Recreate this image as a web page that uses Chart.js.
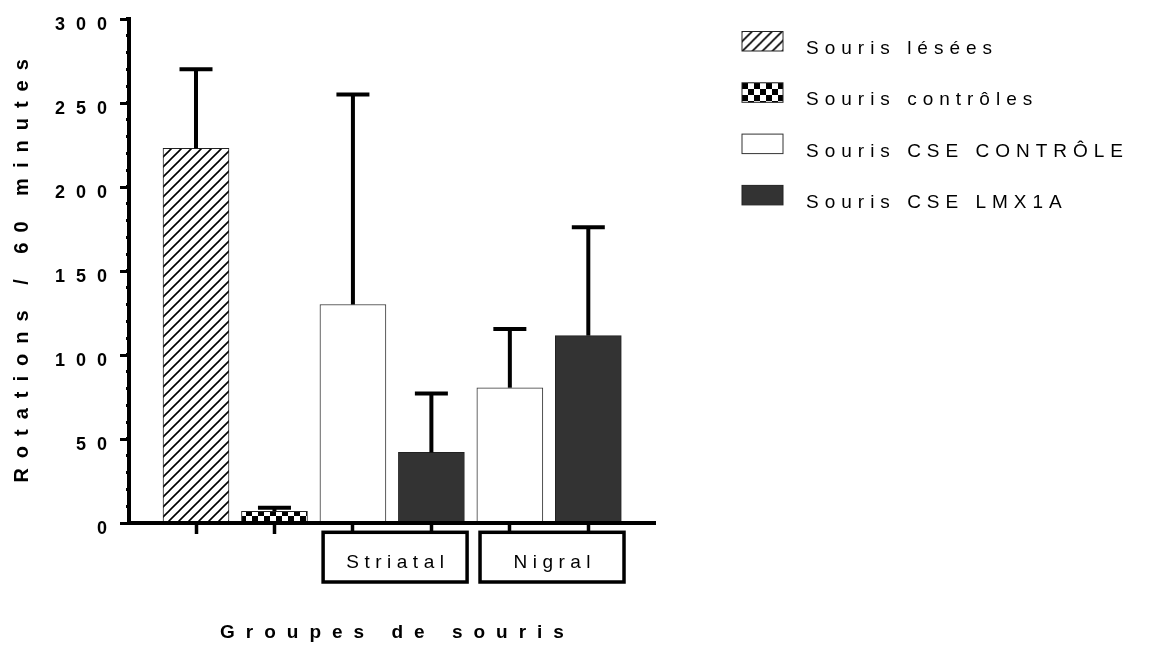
<!DOCTYPE html>
<html>
<head>
<meta charset="utf-8">
<title>Rotations / 60 minutes</title>
<script src="https://cdn.jsdelivr.net/npm/chart.js@4"></script>
<style>
  html, body { margin: 0; padding: 0; background: #ffffff; }
  canvas { display: block; }
</style>
</head>
<body>
<canvas id="chart" width="1149" height="652"></canvas>
<script>
// ---- data ----
const seriesNames = ['Souris lésées', 'Souris contrôles', 'Souris CSE CONTRÔLE', 'Souris CSE LMX1A'];
const barSeries = [0, 1, 2, 3, 2, 3];          // series index of each bar, left to right
const barMeans  = [223, 7, 130, 42, 80.5, 111.5];
const barErrors = [47, 2, 125, 35, 35, 64.5];   // upper error (SEM)
const groupLabels = ['Striatal', 'Nigral'];
const groupBars = [[2, 3], [4, 5]];             // bars framed by each group box
const yTickStep = 10;
const yLabelStep = 50;
const yTitle = 'Rotations / 60 minutes';
const xTitle = 'Groupes de souris';

const FONT = "'Liberation Sans', Arial, Helvetica, sans-serif";

// ---- fill patterns ----
function makeHatch(ctx, dx, dy) {
  const c = document.createElement('canvas');
  c.width = 10; c.height = 10;
  const g = c.getContext('2d');
  g.fillStyle = '#ffffff'; g.fillRect(0, 0, 10, 10);
  g.strokeStyle = '#000000'; g.lineWidth = 1.6;
  g.beginPath();
  g.moveTo(-2, 12); g.lineTo(12, -2);
  g.moveTo(-2, 2); g.lineTo(2, -2);
  g.moveTo(8, 12); g.lineTo(12, 8);
  g.stroke();
  const p = ctx.createPattern(c, 'repeat');
  if (dx !== undefined && p.setTransform) p.setTransform(new DOMMatrix().translate(dx, dy));
  return p;
}
function makeChecker(ctx, dx, dy) {
  const c = document.createElement('canvas');
  c.width = 12; c.height = 12;
  const g = c.getContext('2d');
  g.fillStyle = '#ffffff'; g.fillRect(0, 0, 12, 12);
  g.fillStyle = '#000000';
  g.fillRect(0, 0, 6, 6); g.fillRect(6, 6, 6, 6);
  const p = ctx.createPattern(c, 'repeat');
  if (dx !== undefined && p.setTransform) p.setTransform(new DOMMatrix().translate(dx, dy));
  return p;
}

const canvas = document.getElementById('chart');
const ctx = canvas.getContext('2d');
const fills = [makeHatch(ctx), makeChecker(ctx), '#ffffff', '#333333'];
const edges = ['#222222', '#222222', '#333333', '#222222'];

const datasets = seriesNames.map((name, s) => ({
  label: name,
  data: barMeans
    .map((v, i) => ({ x: i, y: v, err: barErrors[i] }))
    .filter((d, i) => barSeries[i] === s),
  backgroundColor: fills[s],
  borderColor: edges[s],
  borderWidth: 1,
  barThickness: 66,
  grouped: false
}));

// text with tracking
function spaced(c, text, x, y, spacing, align) {
  c.letterSpacing = spacing + 'px';
  c.textAlign = align;
  let xx = x;
  if (align === 'center') xx = x + spacing / 2;
  else if (align === 'right') xx = x + spacing;
  c.fillText(text, xx, y);
  c.letterSpacing = '0px';
}

// ---- error bars (upper only, with cap) ----
const errorBars = {
  id: 'errorBars',
  afterDatasetsDraw(chart) {
    const c = chart.ctx;
    const y = chart.scales.y;
    c.save();
    c.strokeStyle = '#000000';
    c.lineCap = 'butt';
    chart.data.datasets.forEach((ds, di) => {
      const meta = chart.getDatasetMeta(di);
      meta.data.forEach((bar, j) => {
        const d = ds.data[j];
        const top = y.getPixelForValue(d.y + d.err);
        c.lineWidth = 4;
        c.beginPath(); c.moveTo(bar.x, bar.y); c.lineTo(bar.x, top); c.stroke();
        c.beginPath(); c.moveTo(bar.x - 16.5, top); c.lineTo(bar.x + 16.5, top); c.stroke();
      });
    });
    c.restore();
  }
};

// ---- tick label tracking, long major ticks, group boxes, titles, legend ----
const decor = {
  id: 'decor',
  beforeDraw(chart) {
    chart.ctx.letterSpacing = '11px';
  },
  afterDraw(chart) {
    const c = chart.ctx;
    const x = chart.scales.x;
    const y = chart.scales.y;
    const area = chart.chartArea;
    c.save();
    c.letterSpacing = '0px';

    // long ticks at labelled values
    c.strokeStyle = '#000000';
    c.lineWidth = 3;
    for (let v = 0; v <= y.max; v += yLabelStep) {
      const py = Math.round(y.getPixelForValue(v)) + 0.5;
      c.beginPath(); c.moveTo(area.left - 9, py); c.lineTo(area.left, py); c.stroke();
    }

    // group boxes below the axis
    c.lineWidth = 3.5;
    c.fillStyle = '#000000';
    c.font = '19px ' + FONT;
    c.textBaseline = 'alphabetic';
    groupLabels.forEach((lab, g) => {
      const first = groupBars[g][0], last = groupBars[g][groupBars[g].length - 1];
      const x0 = x.getPixelForValue(first - 0.38);
      const x1 = x.getPixelForValue(last + 0.455);
      const top = 532.3, bottom = 582;
      c.strokeRect(x0, top, x1 - x0, bottom - top);
      spaced(c, lab, (x0 + x1) / 2, 568, 5.5, 'center');
    });

    // axis titles
    c.font = 'bold 19px ' + FONT;
    spaced(c, xTitle, (area.left + area.right) / 2, 638, 11, 'center');
    c.save();
    c.translate(27.5, (area.top + area.bottom) / 2);
    c.rotate(-Math.PI / 2);
    c.font = 'bold 20px ' + FONT;
    spaced(c, yTitle, 0, 0, 10, 'center');
    c.restore();

    // legend
    const keyFills = [makeHatch(c, 742, 31.5), makeChecker(c, 742, 83), '#ffffff', '#333333'];
    c.font = '19px ' + FONT;
    chart.data.datasets.forEach((ds, i) => {
      const top = 31.5 + 51.3 * i;
      c.fillStyle = keyFills[i];
      c.fillRect(742, top, 41, 19.5);
      c.strokeStyle = edges[i];
      c.lineWidth = 1;
      c.strokeRect(742, top, 41, 19.5);
      c.fillStyle = '#000000';
      spaced(c, ds.label, 806, top + 22.5, 6, 'left');
    });
    c.restore();
  }
};

new Chart(ctx, {
  type: 'bar',
  data: { datasets },
  options: {
    responsive: false,
    animation: false,
    devicePixelRatio: 1,
    layout: { padding: { top: 15, right: 494, bottom: 0, left: 0 } },
    plugins: { legend: { display: false }, tooltip: { enabled: false } },
    scales: {
      x: {
        type: 'linear',
        offset: false,
        min: -0.854,
        max: 5.85,
        afterFit(s) { s.height = 129; },
        ticks: { display: false, stepSize: 1, includeBounds: false },
        grid: {
          offset: false,
          drawOnChartArea: false, drawTicks: true,
          tickLength: 11, tickWidth: 3.5, tickColor: '#000000'
        },
        border: { display: true, width: 4, color: '#000000', z: 1 }
      },
      y: {
        min: 0,
        max: 300,
        afterFit(s) { s.width = 129; },
        ticks: {
          stepSize: yTickStep,
          autoSkip: false,
          padding: 8,
          labelOffset: 6,
          color: '#000000',
          font: { family: FONT, size: 18, weight: 'bold' },
          callback: (v) => (v % yLabelStep === 0 ? String(v) : '')
        },
        grid: {
          drawOnChartArea: false, drawTicks: true,
          tickLength: 3, tickWidth: 3, tickColor: '#000000'
        },
        border: { display: true, width: 4, color: '#000000', z: 1 }
      }
    }
  },
  plugins: [errorBars, decor]
});
</script>
</body>
</html>
